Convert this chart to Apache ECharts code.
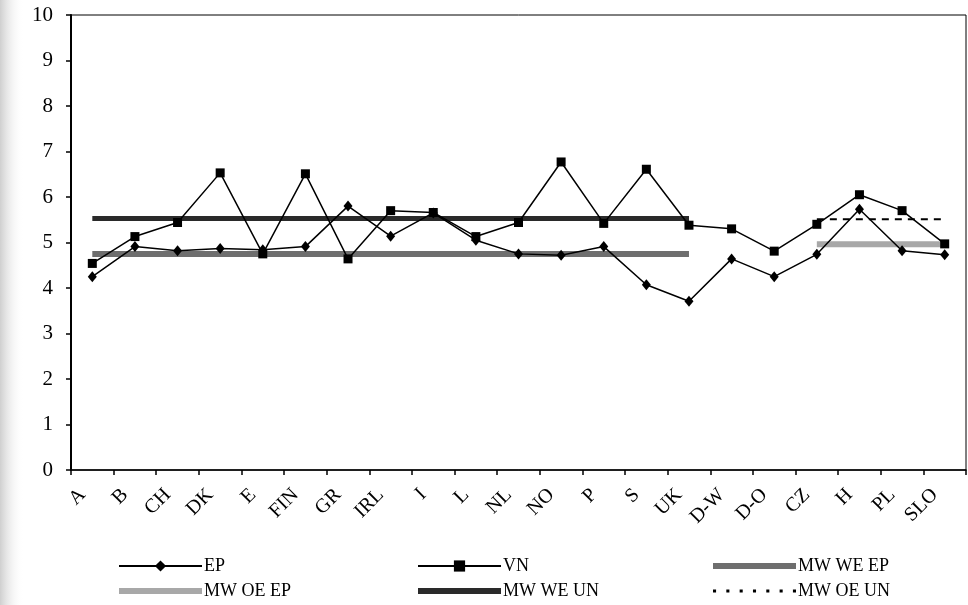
<!DOCTYPE html>
<html>
<head>
<meta charset="utf-8">
<script src="https://cdn.jsdelivr.net/npm/echarts@6/dist/echarts.min.js"></script>
<style>
html,body{margin:0;padding:0;background:#fff;}
#chart{width:968px;height:605px;}
</style>
</head>
<body>
<div id="chart"></div>
<script>
const categories = ['A','B','CH','DK','E','FIN','GR','IRL','I','L','NL','NO','P','S','UK','D-W','D-O','CZ','H','PL','SLO'];
const yTicks = [0,1,2,3,4,5,6,7,8,9,10];
const ep = [4.25, 4.91, 4.82, 4.87, 4.84, 4.91, 5.80, 5.14, 5.65, 5.05, 4.75, 4.72, 4.91, 4.07, 3.71, 4.64, 4.25, 4.74, 5.73, 4.82, 4.73];
const vn = [4.54, 5.13, 5.44, 6.53, 4.75, 6.51, 4.64, 5.70, 5.66, 5.13, 5.44, 6.77, 5.42, 6.61, 5.38, 5.30, 4.81, 5.40, 6.05, 5.70, 4.97];
const mwWeEp = [4.75,4.75,4.75,4.75,4.75,4.75,4.75,4.75,4.75,4.75,4.75,4.75,4.75,4.75,4.75,null,null,null,null,null,null];
const mwOeEp = [null,null,null,null,null,null,null,null,null,null,null,null,null,null,null,null,null,4.96,4.96,4.96,4.96];
const mwWeUn = [5.53,5.53,5.53,5.53,5.53,5.53,5.53,5.53,5.53,5.53,5.53,5.53,5.53,5.53,5.53,null,null,null,null,null,null];
const mwOeUn = [null,null,null,null,null,null,null,null,null,null,null,null,null,null,null,null,null,5.51,5.51,5.51,5.51];

const FONT = 'Liberation Serif';
const chart = echarts.init(document.getElementById('chart'), null, {renderer:'canvas'});

const bandIcon = 'path://M0,0H83V6H0Z';
const dotsIcon = 'path://M0,0H3V3H0Z M13,0H16V3H13Z M26,0H29V3H26Z M39,0H42V3H39Z M52,0H55V3H52Z M65,0H68V3H65Z M78,0H81V3H78Z';

function legendCol(left, items){
  return {
    orient: 'vertical',
    left: left,
    top: 556,
    itemWidth: 83,
    itemHeight: 14,
    itemGap: 5,
    padding: 0,
    symbolKeepAspect: true,
    data: items,
    textStyle: {fontFamily: FONT, fontSize: 18, color: '#000', lineHeight: 20, padding: [0,0,0,-3]}
  };
}

const option = {
  backgroundColor: '#fff',
  animation: false,
  graphic: [{
    type: 'rect', left: 0, top: 0, z: -10,
    shape: {width: 24, height: 605},
    style: {fill: new echarts.graphic.LinearGradient(0,0,1,0,[{offset:0,color:'#cfcfcf'},{offset:1,color:'rgba(255,255,255,0)'}])}
  }],
  grid: {left: 71, top: 15, right: 2, bottom: 135, show: true, borderColor: '#000', borderWidth: 1, backgroundColor: 'transparent'},
  legend: [
    legendCol(118, ['EP', {name: 'MW OE EP', icon: bandIcon}]),
    legendCol(417, ['VN', {name: 'MW WE UN', icon: bandIcon}]),
    legendCol(713, [{name: 'MW WE EP', icon: bandIcon}, {name: 'MW OE UN', icon: dotsIcon}])
  ],
  xAxis: {
    type: 'category',
    data: categories,
    boundaryGap: true,
    axisLine: {lineStyle: {color: '#000', width: 1.5}},
    axisTick: {show: true, length: 5, lineStyle: {color: '#000', width: 1.5}},
    axisLabel: {rotate: 45, margin: 12, padding: [0,14,0,0], fontFamily: FONT, fontSize: 20, color: '#000'},
    splitLine: {show: false}
  },
  yAxis: {
    type: 'value',
    min: yTicks[0],
    max: yTicks[yTicks.length-1],
    interval: 1,
    axisLine: {show: true, lineStyle: {color: '#000', width: 2}},
    axisTick: {show: true, length: 5, lineStyle: {color: '#000', width: 1.5}},
    axisLabel: {margin: 18, fontFamily: FONT, fontSize: 21, color: '#000'},
    splitLine: {show: false}
  },
  series: [
    {name: 'MW WE EP', type: 'line', data: mwWeEp, symbol: 'none', z: 2,
     lineStyle: {color: '#6e6e6e', width: 6}, itemStyle: {color: '#6e6e6e'}},
    {name: 'MW OE EP', type: 'line', data: mwOeEp, symbol: 'none', z: 2,
     lineStyle: {color: '#a8a8a8', width: 6}, itemStyle: {color: '#a8a8a8'}},
    {name: 'MW WE UN', type: 'line', data: mwWeUn, symbol: 'none', z: 2,
     lineStyle: {color: '#2a2a2a', width: 5}, itemStyle: {color: '#2a2a2a'}},
    {name: 'MW OE UN', type: 'line', data: mwOeUn, symbol: 'none', z: 2,
     lineStyle: {color: '#000', width: 2, type: [7,6]}, itemStyle: {color: '#000'}},
    {name: 'EP', type: 'line', data: ep, symbol: 'diamond', symbolSize: [9,11], z: 3,
     lineStyle: {color: '#000', width: 1.5}, itemStyle: {color: '#000'}},
    {name: 'VN', type: 'line', data: vn, symbol: 'rect', symbolSize: 9, z: 3,
     lineStyle: {color: '#000', width: 1.5}, itemStyle: {color: '#000'}}
  ]
};
chart.setOption(option);
</script>
</body>
</html>
